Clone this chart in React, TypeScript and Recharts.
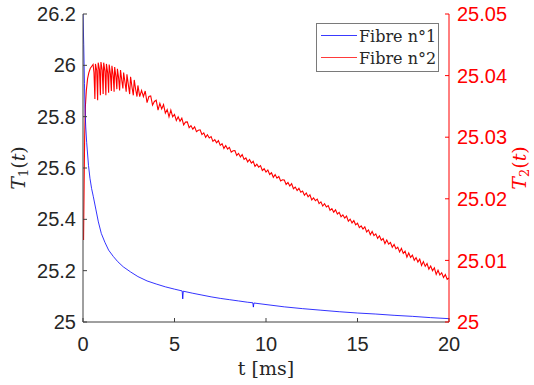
import React from 'react';
import { LineChart, Line, XAxis, YAxis } from 'recharts';

const tTicks = [0, 5, 10, 15, 20];
const t1Ticks = [25, 25.2, 25.4, 25.6, 25.8, 26, 26.2];
const t2Ticks = [25, 25.01, 25.02, 25.03, 25.04, 25.05];

// Fibre n°1 : [t (ms), T1]
const fibre1: [number, number][] = [
  [0, 26.2], [0.04, 26.08], [0.08, 25.93], [0.11, 25.83], [0.15, 25.76], [0.2, 25.7],
  [0.3, 25.61], [0.38, 25.56], [0.47, 25.52], [0.56, 25.49], [0.7, 25.44], [0.84, 25.39],
  [1.0, 25.345], [1.2, 25.31], [1.4, 25.28], [1.66, 25.255], [1.9, 25.235], [2.2, 25.215],
  [2.6, 25.195], [3.0, 25.177], [3.5, 25.16], [4.0, 25.148], [4.5, 25.137], [5.0, 25.128],
  [5.42, 25.121], [5.45, 25.09], [5.48, 25.12], [6.0, 25.112], [6.5, 25.105], [7.0, 25.098],
  [7.5, 25.092], [8.0, 25.087], [8.5, 25.082], [9.0, 25.077], [9.28, 25.075], [9.31, 25.058],
  [9.34, 25.074], [10, 25.068], [11, 25.059], [12, 25.052], [13, 25.046], [14, 25.04],
  [15, 25.035], [16, 25.031], [17, 25.026], [18, 25.022], [19, 25.017], [20, 25.013],
];

// Fibre n°2 : [t (ms), T2]
const fibre2: [number, number][] = [
  [0.03, 25.0133], [0.06, 25.022], [0.09, 25.03], [0.13, 25.035], [0.18, 25.0375], [0.25, 25.0395],
  [0.32, 25.0405], [0.4, 25.0412], [0.5, 25.0416], [0.55, 25.0418], [0.6, 25.0405], [0.65, 25.0362],
  [0.68, 25.0419], [0.75, 25.0408], [0.8, 25.036], [0.83, 25.0421], [0.9, 25.041], [0.95, 25.0368],
  [0.98, 25.0422], [1.05, 25.0409], [1.1, 25.037], [1.13, 25.0421], [1.2, 25.0407], [1.25, 25.0368],
  [1.28, 25.0419], [1.35, 25.0404], [1.4, 25.0372], [1.43, 25.0418], [1.5, 25.0402], [1.55, 25.0375],
  [1.58, 25.0416], [1.65, 25.04], [1.7, 25.0374], [1.73, 25.0414], [1.8, 25.0398], [1.85, 25.0378],
  [1.88, 25.0411], [1.95, 25.0395], [2.0, 25.0376], [2.05, 25.0409], [2.12, 25.0392], [2.18, 25.0379],
  [2.22, 25.0405], [2.3, 25.0388], [2.36, 25.0374], [2.4, 25.0402], [2.48, 25.0385], [2.55, 25.037],
  [2.6, 25.0398], [2.68, 25.0381], [2.75, 25.0368], [2.8, 25.0393], [2.88, 25.0377], [2.95, 25.0366],
  [3.0, 25.0384], [3.1, 25.0366], [3.2, 25.0376], [3.3, 25.0366], [3.4, 25.0375], [3.5, 25.0356],
  [3.6, 25.0366], [3.7, 25.0367], [3.8, 25.0352], [3.9, 25.0358], [4.0, 25.036], [4.1, 25.0344],
  [4.2, 25.0355], [4.3, 25.0346], [4.4, 25.0353], [4.5, 25.0339], [4.6, 25.0345], [4.7, 25.0333],
  [4.8, 25.0344], [4.9, 25.0333], [5.0, 25.0337], [5.1, 25.03272], [5.2, 25.0333], [5.3, 25.03258],
  [5.4, 25.0331], [5.5, 25.03198], [5.6, 25.03245], [5.7, 25.03248], [5.8, 25.03155], [5.9, 25.03188],
  [6.0, 25.0313], [6.1, 25.03168], [6.2, 25.0309], [6.3, 25.03113], [6.4, 25.0312], [6.5, 25.03043],
  [6.6, 25.0307], [6.7, 25.02998], [6.8, 25.0304], [6.9, 25.02988], [7.0, 25.0301], [7.1, 25.02933],
  [7.2, 25.0296], [7.3, 25.02908], [7.4, 25.02945], [7.5, 25.02868], [7.6, 25.02895], [7.7, 25.02818],
  [7.8, 25.02865], [7.9, 25.02808], [8.0, 25.02835], [8.1, 25.02758], [8.2, 25.0278], [8.3, 25.02783],
  [8.4, 25.02705], [8.5, 25.02738], [8.6, 25.0268], [8.7, 25.02718], [8.8, 25.0264], [8.9, 25.02663],
  [9.0, 25.026], [9.1, 25.02638], [9.2, 25.0258], [9.3, 25.02608], [9.4, 25.02525], [9.5, 25.02563],
  [9.6, 25.02515], [9.7, 25.02538], [9.8, 25.0246], [9.9, 25.02488], [10.0, 25.02435], [10.1, 25.02468],
  [10.2, 25.02395], [10.3, 25.02423], [10.4, 25.0235], [10.5, 25.02393], [10.6, 25.02335], [10.7, 25.02363],
  [10.8, 25.0229], [10.9, 25.02308], [11.0, 25.02305], [11.1, 25.02233], [11.2, 25.02265], [11.3, 25.02208],
  [11.4, 25.02245], [11.5, 25.02163], [11.6, 25.0219], [11.7, 25.02133], [11.8, 25.0217], [11.9, 25.02108],
  [12.0, 25.02125], [12.1, 25.02058], [12.2, 25.02095], [12.3, 25.02033], [12.4, 25.02065], [12.5, 25.01983],
  [12.6, 25.02015], [12.7, 25.01968], [12.8, 25.01995], [12.9, 25.01923], [13.0, 25.0195], [13.1, 25.01883],
  [13.2, 25.0192], [13.3, 25.01868], [13.4, 25.0189], [13.5, 25.01813], [13.6, 25.0184], [13.7, 25.01783],
  [13.8, 25.0182], [13.9, 25.01753], [14.0, 25.0178], [14.1, 25.01708], [14.2, 25.0174], [14.3, 25.01688],
  [14.4, 25.0172], [14.5, 25.01638], [14.6, 25.0167], [14.7, 25.01608], [14.8, 25.01645], [14.9, 25.01578],
  [15.0, 25.01605], [15.1, 25.01533], [15.2, 25.0156], [15.3, 25.01508], [15.4, 25.01545], [15.5, 25.01463],
  [15.6, 25.01495], [15.7, 25.01418], [15.8, 25.0147], [15.9, 25.01403], [16.0, 25.0143], [16.1, 25.01358],
  [16.2, 25.014], [16.3, 25.01328], [16.4, 25.01355], [16.5, 25.01273], [16.6, 25.0133], [16.7, 25.01263],
  [16.8, 25.0129], [16.9, 25.01213], [17.0, 25.0126], [17.1, 25.01188], [17.2, 25.01215], [17.3, 25.01138],
  [17.4, 25.01195], [17.5, 25.01113], [17.6, 25.0115], [17.7, 25.01053], [17.8, 25.0112], [17.9, 25.01048],
  [18.0, 25.01085], [18.1, 25.01003], [18.2, 25.01045], [18.3, 25.00973], [18.4, 25.0102], [18.5, 25.00918],
  [18.6, 25.0098], [18.7, 25.00903], [18.8, 25.0095], [18.9, 25.00858], [19.0, 25.0091], [19.1, 25.00833],
  [19.2, 25.0088], [19.3, 25.00773], [19.4, 25.0084], [19.5, 25.00763], [19.6, 25.008], [19.7, 25.00723],
  [19.8, 25.0077], [19.9, 25.00693], [20.0, 25.00715],
];

const toRows = (pts: [number, number][]) => pts.map(([t, v]) => ({ t, v }));

const axisGray = '#404040';
const labelGray = '#262626';
const red = '#ff0000';
const blue = '#0000ff';
const tickFont = { fontSize: 20, fontFamily: 'Liberation Sans, Arial, sans-serif' };

const YTitle = ({ viewBox, dx, color, sub }: any) => {
  const x = viewBox.x + dx;
  const y = viewBox.y + viewBox.height / 2;
  return (
    <text
      x={x}
      y={y}
      transform={`rotate(-90 ${x} ${y})`}
      textAnchor="middle"
      dominantBaseline="central"
      fontFamily="DejaVu Serif"
      fontSize={19}
      fill={color}
    >
      <tspan fontStyle="italic">T</tspan>
      <tspan fontSize={13} dy={5}>{sub}</tspan>
      <tspan dy={-5}>(</tspan>
      <tspan fontStyle="italic">t</tspan>
      <tspan>)</tspan>
    </text>
  );
};

const XTitle = ({ viewBox }: any) => (
  <text
    x={viewBox.x + viewBox.width / 2}
    y={viewBox.y + 46}
    textAnchor="middle"
    dominantBaseline="central"
    fontFamily="DejaVu Serif"
    fontSize={19}
    fill={labelGray}
  >
    t [ms]
  </text>
);

const series = [
  { name: 'Fibre n°1', color: '#3a3aff' },
  { name: 'Fibre n°2', color: '#ff3a3a' },
];

export default function App() {
  return (
    <div style={{ position: 'absolute', left: 0, top: 0, width: 534, height: 385, background: '#fff' }}>
      <LineChart width={534} height={385} margin={{ top: 14, right: 0, bottom: 0, left: 0 }}>
        <XAxis
          xAxisId="bottom"
          dataKey="t"
          type="number"
          domain={[0, 20]}
          ticks={tTicks}
          allowDataOverflow
          height={63}
          stroke={axisGray}
          tickSize={-4}
          tickMargin={19}
          tick={{ ...tickFont, fill: labelGray }}
          label={<XTitle />}
        />
        <XAxis
          xAxisId="top"
          orientation="top"
          dataKey="t"
          type="number"
          domain={[0, 20]}
          ticks={tTicks}
          allowDataOverflow
          height={0}
          stroke={axisGray}
          tickSize={-4}
          tickFormatter={() => ''}
        />
        <YAxis
          yAxisId="left"
          orientation="left"
          type="number"
          domain={[25, 26.2]}
          ticks={t1Ticks}
          allowDataOverflow
          width={83}
          stroke={axisGray}
          tickSize={-4}
          tickMargin={11}
          tick={{ ...tickFont, fill: labelGray }}
          label={<YTitle dx={18} color={labelGray} sub="1" />}
        />
        <YAxis
          yAxisId="right"
          orientation="right"
          type="number"
          domain={[25, 25.05]}
          ticks={t2Ticks}
          allowDataOverflow
          width={85}
          stroke={red}
          tickSize={-4}
          tickMargin={12}
          tick={{ ...tickFont, fill: red }}
          label={<YTitle dx={70} color={red} sub="2" />}
        />
        <Line
          xAxisId="bottom"
          yAxisId="right"
          data={toRows(fibre2)}
          dataKey="v"
          type="linear"
          stroke={red}
          strokeWidth={1.1}
          dot={false}
          isAnimationActive={false}
        />
        <Line
          xAxisId="bottom"
          yAxisId="left"
          data={toRows(fibre1)}
          dataKey="v"
          type="linear"
          stroke={blue}
          strokeWidth={0.8}
          dot={false}
          isAnimationActive={false}
        />
      </LineChart>
      <svg
        width={123}
        height={49}
        style={{ position: 'absolute', left: 316, top: 23 }}
      >
        <rect x={0.5} y={0.5} width={122} height={48} fill="#fff" stroke="#7a7a7a" />
        {series.map((s, i) => (
          <g key={s.name}>
            <line x1={5} x2={41} y1={12.5 + i * 22} y2={12.5 + i * 22} stroke={s.color} strokeWidth={1} />
            <text x={43} y={18.5 + i * 22} fontFamily="DejaVu Serif" fontSize={16} fill={labelGray}>
              {s.name}
            </text>
          </g>
        ))}
      </svg>
    </div>
  );
}
